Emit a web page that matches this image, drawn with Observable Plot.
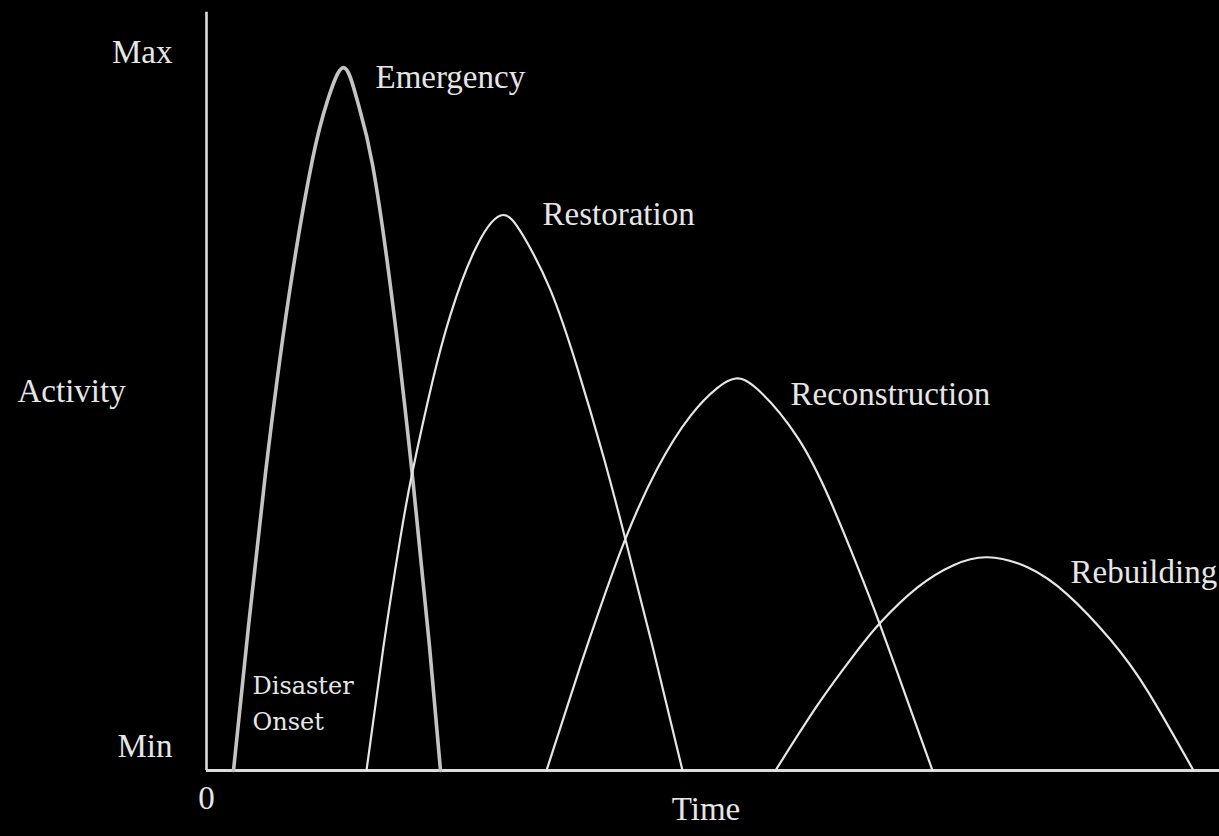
<!DOCTYPE html>
<html>
<head>
<meta charset="utf-8">
<script src="https://cdn.jsdelivr.net/npm/d3@7"></script>
<script src="https://cdn.jsdelivr.net/npm/@observablehq/plot@0.6"></script>
<style>
  html, body { margin: 0; padding: 0; background: #000; overflow: hidden; }
</style>
</head>
<body>
<div id="chart"></div>
<script>
// Phases of disaster activity (time and activity in arbitrary units, Max = 100)
const phases = ["Emergency", "Restoration", "Reconstruction", "Rebuilding"];

const emergencyTime     = [2.7, 4.2, 5.9, 8.2, 10.6, 12.1, 13.7, 15.1, 16.6, 18.6, 20.6, 22.3, 23.4];
const emergencyActivity = [0, 20.1, 41.4, 65.7, 85.1, 93.3, 97.9, 93.2, 84.4, 65.2, 40.9, 17.3, 0];

const restorationTime     = [16.0, 17.7, 19.4, 20.6, 22.6, 24.4, 26.7, 29.4, 31.7, 34.4, 37.1, 39.7, 41.8, 44.6, 47.6];
const restorationActivity = [0, 17.3, 32.5, 41.6, 54.2, 63.5, 72.1, 77.3, 74.4, 66.9, 56.0, 43.7, 32.7, 17.3, 0];

const reconstructionTime     = [34.0, 37.4, 39.4, 41.9, 45.1, 48.4, 51.1, 52.9, 55.1, 59.1, 62.4, 65.1, 67.3, 70.1, 72.6];
const reconstructionActivity = [0, 14.6, 22.8, 32.3, 42.1, 49.4, 53.3, 54.6, 53.1, 46.4, 37.5, 28.4, 20.5, 9.7, 0];

const rebuildingTime     = [56.9, 61.1, 64.7, 67.4, 71.1, 74.7, 78.1, 82.1, 86.1, 90.4, 94.1, 98.7];
const rebuildingActivity = [0, 9.1, 16.0, 20.6, 25.5, 28.6, 29.7, 28.3, 24.5, 18.2, 11.1, 0];

const yTickValues = [3.4, 100];
const yTickLabels = ["Min", "Max"];
const xTickValues = [0];
const xTickLabels = ["0"];
const timeMax = 101.3;
const yAxisTop = 105.6;
const onsetLabel = "Disaster\nOnset";

// Build a tidy table from the arrays
const seriesTimes = [emergencyTime, restorationTime, reconstructionTime, rebuildingTime];
const seriesActs  = [emergencyActivity, restorationActivity, reconstructionActivity, rebuildingActivity];
const table = phases.flatMap((phase, i) =>
  seriesTimes[i].map((t, j) => ({phase, time: t, activity: seriesActs[i][j]}))
);

const serif = "'Liberation Serif', 'Times New Roman', serif";
const ink = "#e6e6e6";
const labelOffsets = {
  Emergency: [32, 9.4],
  Restoration: [42, -0.6],
  Reconstruction: [55, 16.4],
  Rebuilding: [83, 15.4]
};
const lineStyles = {
  Emergency: {stroke: "#c4c4c4", strokeWidth: 3.6},
  Restoration: {stroke: "#e6e6e6", strokeWidth: 2.2},
  Reconstruction: {stroke: "#e6e6e6", strokeWidth: 2.2},
  Rebuilding: {stroke: "#e6e6e6", strokeWidth: 2.2}
};

const yLabelMap = new Map(yTickValues.map((v, i) => [v, yTickLabels[i]]));
const xLabelMap = new Map(xTickValues.map((v, i) => [v, xTickLabels[i]]));

const marks = [
  // axes lines
  Plot.ruleX([0], {y1: 0, y2: yAxisTop, stroke: "#dcdcdc", strokeWidth: 2.6}),
  Plot.ruleY([0], {stroke: "#dcdcdc", strokeWidth: 3}),
  // curves
  ...phases.map(p => Plot.line(table.filter(d => d.phase === p), {
    x: "time", y: "activity", curve: "natural",
    stroke: lineStyles[p].stroke, strokeWidth: lineStyles[p].strokeWidth
  })),
  // curve labels at each peak
  ...phases.map(p => Plot.text(table.filter(d => d.phase === p), Plot.selectMaxY({
    x: "time", y: "activity", text: "phase",
    textAnchor: "start", dx: labelOffsets[p][0], dy: labelOffsets[p][1],
    fontSize: 33, fontFamily: serif, fill: ink
  }))),
  // axis tick labels
  Plot.axisY(yTickValues, {
    tickSize: 0, tickPadding: 34, tickFormat: d => yLabelMap.get(d),
    fontSize: 33, fontFamily: serif, fill: ink, label: null
  }),
  Plot.axisX(xTickValues, {
    tickSize: 0, tickPadding: 15, tickFormat: d => xLabelMap.get(d),
    fontSize: 33, fontFamily: serif, fill: ink, label: null
  }),
  // axis titles
  Plot.text(["Activity"], {
    frameAnchor: "left", textAnchor: "start", dx: -189, dy: -19.6,
    fontSize: 33, fontFamily: serif, fill: ink
  }),
  Plot.text(["Time"], {
    frameAnchor: "bottom", dx: -7, dy: 49.4,
    fontSize: 33, fontFamily: serif, fill: ink
  }),
  // onset annotation
  Plot.text([onsetLabel], {
    frameAnchor: "bottom-left", textAnchor: "start", lineAnchor: "bottom",
    lineHeight: 1.5, dx: 46, dy: -41,
    fontSize: 24, fontFamily: "'DejaVu Serif', serif", fill: ink
  })
];

const chart = Plot.plot({
  width: 1219,
  height: 836,
  marginLeft: 206,
  marginRight: 0,
  marginTop: 52,
  marginBottom: 66,
  x: {domain: [0, timeMax], axis: null},
  y: {domain: [0, 100], axis: null},
  style: {background: "#000", color: ink, fontFamily: serif, fontSize: "33px", overflow: "visible"},
  marks
});
document.getElementById("chart").appendChild(chart);
</script>
</body>
</html>
